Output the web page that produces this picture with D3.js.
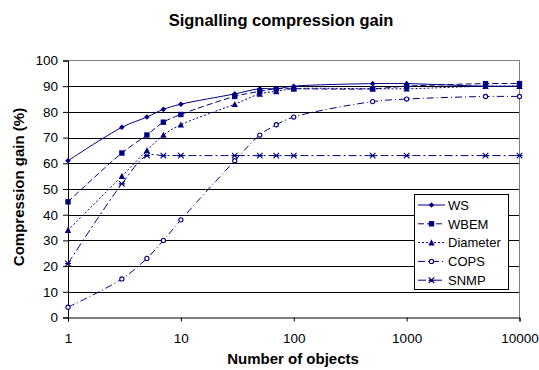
<!DOCTYPE html>
<html><head><meta charset="utf-8">
<script src="https://cdn.jsdelivr.net/npm/d3@7"></script>
<style>body{margin:0;background:#fff;} svg{display:block;font-family:"Liberation Sans",Arial,sans-serif;}</style>
</head><body>
<svg id="c" width="539" height="370"></svg>
<script>
const xValues = [1, 3, 5, 7, 10, 30, 50, 70, 100, 500, 1000, 5000, 10000];
const seriesNames = ["WS", "WBEM", "Diameter", "COPS", "SNMP"];
const wsValues = [61, 74, 78, 81, 83, 87, 89, 89, 90, 91, 91, 90, 90];
const wbemValues = [45, 64, 71, 76, 79, 86, 88, 89, 89, 89, 90, 91, 91];
const diameterValues = [34, 55, 65, 71, 75, 83, 87, 88, 89, 89, 89, 90, 90];
const copsValues = [4, 15, 23, 30, 38, 61, 71, 75, 78, 84, 85, 86, 86];
const snmpValues = [21, 52, 63, 63, 63, 63, 63, 63, 63, 63, 63, 63, 63];
const yTicks = [0, 10, 20, 30, 40, 50, 60, 70, 80, 90, 100];
const xTicks = [1, 10, 100, 1000, 10000];
const title = "Signalling compression gain";
const xLabel = "Number of objects";
const yLabel = "Compression gain (%)";

const svg = d3.select("#c");
const L = 68, R = 519.5, T = 60.5, B = 317.5;
const x = d3.scaleLog().domain([1, 10000]).range([L, R]);
const y = d3.scaleLinear().domain([0, 100]).range([B, T]);
const col = "#000080";
const FF = "Liberation Sans, Arial, sans-serif";

// gridlines
svg.append("g").selectAll("line").data(yTicks.filter(v => v > 0 && v < 100)).join("line")
  .attr("x1", L).attr("x2", R).attr("y1", d => Math.round(y(d)) + 0.5).attr("y2", d => Math.round(y(d)) + 0.5)
  .attr("stroke", "#000").attr("stroke-width", 1);
// border top/right gray
svg.append("path").attr("d", `M${L},${T}H${R}V${B}`).attr("fill", "none").attr("stroke", "#808080");

// y axis
const yAxis = svg.append("g").attr("transform", `translate(${L},0)`)
  .call(d3.axisLeft(y).tickValues(yTicks).tickSize(5).tickPadding(5));
yAxis.select(".domain").attr("stroke", "#000");
yAxis.selectAll("text").attr("font-size", 13.5).attr("fill", "#000").attr("font-family", FF);
// x axis
const xAxis = svg.append("g").attr("transform", `translate(0,${B})`)
  .call(d3.axisBottom(x).tickValues(xTicks).tickFormat(d3.format("d")).tickSize(4).tickPadding(12));
xAxis.select(".domain").attr("stroke", "#000");
xAxis.selectAll("text").attr("font-size", 13.5).attr("fill", "#000").attr("font-family", FF);

// titles
svg.append("text").attr("x", 281).attr("y", 26).attr("text-anchor", "middle")
  .attr("font-size", 16.5).attr("font-weight", "bold").text(title);
svg.append("text").attr("x", 293).attr("y", 364).attr("text-anchor", "middle")
  .attr("font-size", 15).attr("font-weight", "bold").text(xLabel);
svg.append("text").attr("transform", "translate(23.5,187) rotate(-90)").attr("text-anchor", "middle")
  .attr("font-size", 15).attr("font-weight", "bold").text(yLabel);

const series = [
  {name: seriesNames[0], values: wsValues, dash: null, marker: "diamond"},
  {name: seriesNames[1], values: wbemValues, dash: "6,3", marker: "square"},
  {name: seriesNames[2], values: diameterValues, dash: "2,2", marker: "triangle"},
  {name: seriesNames[3], values: copsValues, dash: "7,3,1,3", marker: "circle"},
  {name: seriesNames[4], values: snmpValues, dash: "8,3,2,3", marker: "star"}
];

function drawMarker(g, type, cx, cy) {
  if (type === "diamond") {
    g.append("path").attr("d", `M${cx},${cy-2.8}L${cx+2.8},${cy}L${cx},${cy+2.8}L${cx-2.8},${cy}Z`).attr("fill", col);
  } else if (type === "square") {
    g.append("rect").attr("x", cx-2.7).attr("y", cy-2.7).attr("width", 5.4).attr("height", 5.4).attr("fill", col);
  } else if (type === "triangle") {
    g.append("path").attr("d", `M${cx},${cy-3.3}L${cx+3.2},${cy+2.8}L${cx-3.2},${cy+2.8}Z`).attr("fill", col);
  } else if (type === "circle") {
    g.append("circle").attr("cx", cx).attr("cy", cy).attr("r", 2.1).attr("fill", "#fff").attr("stroke", col).attr("stroke-width", 1.1);
  } else if (type === "star") {
    g.append("path").attr("d", `M${cx-2.8},${cy-2.8}L${cx+2.8},${cy+2.8}M${cx-2.8},${cy+2.8}L${cx+2.8},${cy-2.8}M${cx-3},${cy}H${cx+3}`)
      .attr("stroke", col).attr("stroke-width", 1.1).attr("fill", "none");
  }
}

const line = d3.line().x(d => x(d[0])).y(d => y(d[1])).curve(d3.curveCatmullRom.alpha(0.5));
const plot = svg.append("g");
series.forEach(s => {
  const pts = xValues.map((xv, i) => [xv, s.values[i]]);
  plot.append("path").datum(pts).attr("d", line).attr("fill", "none").attr("stroke", col)
    .attr("stroke-width", 1).attr("stroke-dasharray", s.dash);
});
series.forEach(s => {
  const g = plot.append("g");
  xValues.forEach((xv, i) => drawMarker(g, s.marker, x(xv), y(s.values[i])));
});

// legend
const lg = svg.append("g");
lg.append("rect").attr("x", 414.5).attr("y", 194.5).attr("width", 94).attr("height", 95)
  .attr("fill", "#fff").attr("stroke", "#000");
series.forEach((s, i) => {
  const ly = 205 + i * 18.8;
  lg.append("line").attr("x1", 418).attr("x2", 445).attr("y1", ly).attr("y2", ly)
    .attr("stroke", col).attr("stroke-dasharray", s.dash);
  drawMarker(lg, s.marker, 431.5, ly);
  lg.append("text").attr("x", 448).attr("y", ly + 4.7).attr("font-size", 13).attr("font-family", FF).text(s.name);
});
</script>
</body></html>
